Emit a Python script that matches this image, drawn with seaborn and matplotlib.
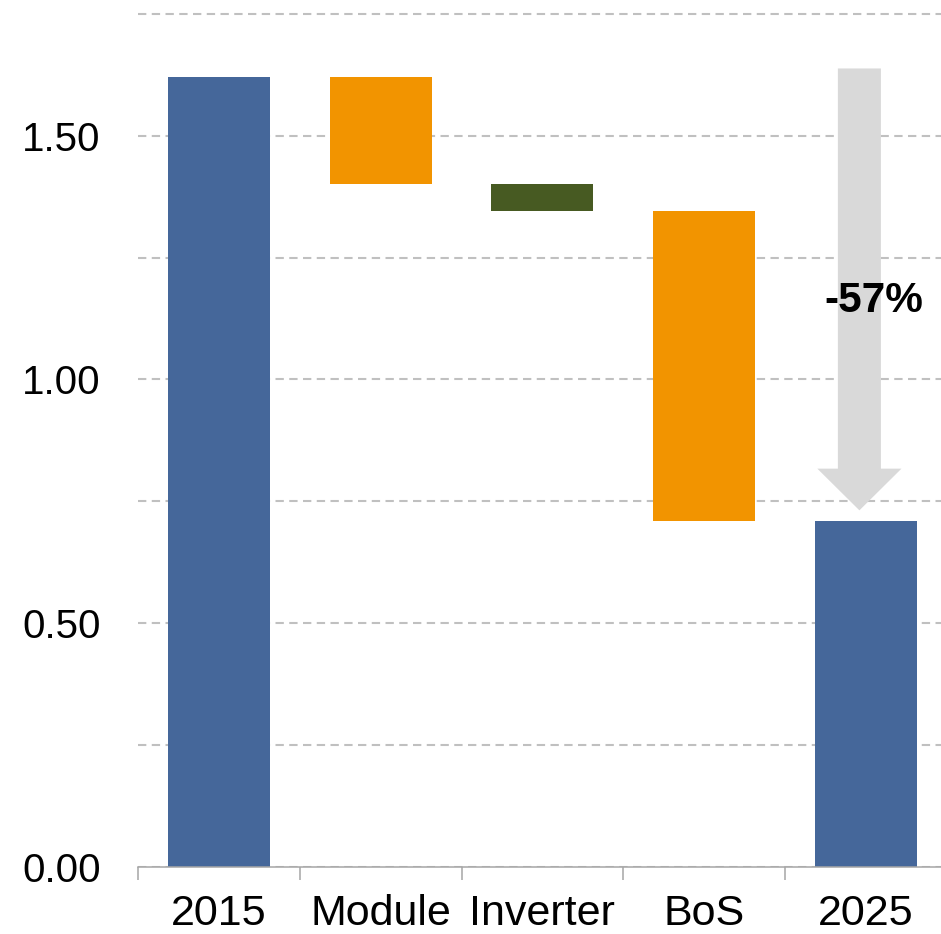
import numpy as np
import pandas as pd
import matplotlib
matplotlib.use("Agg")
import matplotlib.pyplot as plt
import seaborn as sns
from matplotlib.ticker import FixedLocator, FormatStrFormatter

# ---- data ----
categories = ["2015", "Module", "Inverter", "BoS", "2025"]
start_value = 1.62
deltas = [-0.22, -0.055, -0.635]
change_label = "-57%"
y_major_ticks = [0.00, 0.50, 1.00, 1.50]
y_grid_ticks = [0.25, 0.75, 1.25, 1.75]
bar_colors = ["#45679A", "#F29400", "#475A22", "#F29400", "#45679A"]

levels = np.concatenate([[start_value], start_value + np.cumsum(deltas)])
end_value = levels[-1]
tops = np.array([start_value] + list(levels[:-1]) + [end_value])
bottoms = np.array([0.0] + list(levels[1:]) + [0.0])
heights = tops - bottoms

df = pd.DataFrame({"category": categories, "height": heights, "bottom": bottoms})

# ---- style ----
sns.set_theme(style="white")
plt.rcParams["font.family"] = ["Liberation Sans", "DejaVu Sans"]

W, H = 941, 934
fig = plt.figure(figsize=(W / 100, H / 100), dpi=100)
ymax = 1.77
px_per_unit = 487.2
ax_left, ax_bottom_px = 138, 866.5
ax = fig.add_axes([ax_left / W, (H - ax_bottom_px) / H, (W - ax_left) / W, ymax * px_per_unit / H])

sns.barplot(data=df, x="category", y="height", bottom=df["bottom"].values,
            width=0.63, errorbar=None, ax=ax, color=bar_colors[0], linewidth=0,
            saturation=1, zorder=2)
for patch, c in zip(ax.patches, bar_colors):
    patch.set_facecolor(c)
    patch.set_edgecolor("none")

# x axis
ax.set_xlim(-0.5, (W - ax_left) / 161.75 - 0.5)
ax.set_ylim(0, ymax)
ax.set_xlabel("")
ax.set_ylabel("")
ax.xaxis.set_minor_locator(FixedLocator(np.arange(len(categories)) - 0.5))
ax.tick_params(axis="x", which="both", bottom=True)
ax.tick_params(axis="x", which="major", length=0, pad=20, labelsize=31, colors="black")
ax.tick_params(axis="x", which="minor", length=9.5, width=1.1, color="#A6A6A6", direction="out")

# y axis
ax.yaxis.set_major_locator(FixedLocator(y_major_ticks))
ax.yaxis.set_minor_locator(FixedLocator(y_grid_ticks))
ax.yaxis.set_major_formatter(FormatStrFormatter("%.2f"))
ax.tick_params(axis="y", which="both", left=False, length=0, pad=27, labelsize=29, colors="black")
ax.grid(False, axis="x")
ax.grid(True, axis="y", which="both", color="#C0C0C0", linewidth=1.5, linestyle=(0, (4, 2.6)))
ax.set_axisbelow(True)

for s in ["left", "top", "right"]:
    ax.spines[s].set_visible(False)
ax.spines["bottom"].set_color("#A6A6A6")
ax.spines["bottom"].set_linewidth(1.1)
ax.spines["bottom"].set_zorder(5)

# arrow showing total change
arrow_x = 3.96
arrow_top = start_value + 0.018
arrow_tip = end_value + 0.021
ax.arrow(arrow_x, arrow_top, 0, arrow_tip - arrow_top, width=0.266, head_width=0.52,
         head_length=0.0856, length_includes_head=True, color="#D9D9D9",
         linewidth=0, zorder=3)
ax.text(4.05, 1.16, change_label, ha="center", va="center", fontsize=30.5,
        fontweight="bold", color="black", zorder=4)

fig.savefig("out.png", dpi=100)
